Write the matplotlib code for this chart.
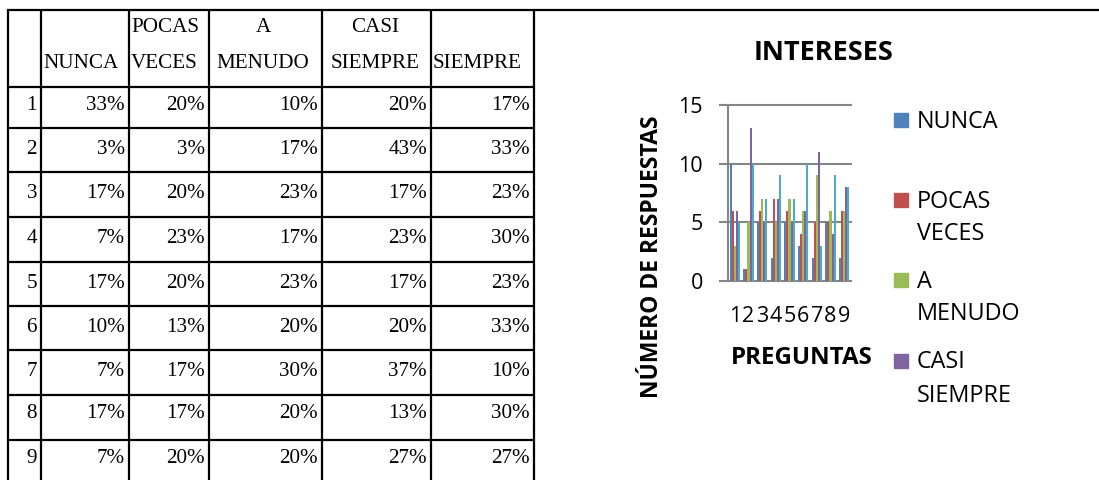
import matplotlib
matplotlib.use("Agg")
import matplotlib.pyplot as plt
import numpy as np
from matplotlib.patches import Rectangle

plt.rcParams['font.family'] = ['Open Sans', 'DejaVu Sans']

preguntas = ['1', '2', '3', '4', '5', '6', '7', '8', '9']
series = ['NUNCA', 'POCAS VECES', 'A MENUDO', 'CASI SIEMPRE', 'SIEMPRE']

# porcentajes de la tabla
nunca_pct = [33, 3, 17, 7, 17, 10, 7, 17, 7]
pocas_pct = [20, 3, 20, 23, 20, 13, 17, 17, 20]
menudo_pct = [10, 17, 23, 17, 23, 20, 30, 20, 20]
casi_pct = [20, 43, 17, 23, 17, 20, 37, 13, 27]
siempre_pct = [17, 33, 23, 30, 23, 33, 10, 30, 27]

# numero de respuestas (grafico)
nunca = [10, 1, 5, 2, 5, 3, 2, 5, 2]
pocas = [6, 1, 6, 7, 6, 4, 5, 5, 6]
menudo = [3, 5, 7, 5, 7, 6, 9, 6, 6]
casi = [6, 13, 5, 7, 5, 6, 11, 4, 8]
siempre = [5, 10, 7, 9, 7, 10, 3, 9, 8]

colors = ['#4F81BD', '#C0504D', '#9BBB59', '#8064A2', '#4BACC6']

fig = plt.figure(figsize=(10.99, 4.8), dpi=100)

# capa de fondo en pixeles para la tabla y textos
bg = fig.add_axes([0, 0, 1, 1])
bg.set_xlim(0, 1099)
bg.set_ylim(480, 0)
bg.axis('off')

col_x = [8, 41, 129, 209, 322, 431, 534]
row_y = [10, 87, 128, 172, 217, 262, 306, 350, 395, 440]
lw = 1.6
for x in col_x:
    bg.plot([x, x], [10, 480], color='black', lw=lw, solid_capstyle='butt')
bg.plot([8, 1099], [10, 10], color='black', lw=lw, solid_capstyle='projecting')
for y in row_y[1:]:
    bg.plot([8, 534], [y, y], color='black', lw=lw, solid_capstyle='butt')

serif = ['Liberation Serif', 'DejaVu Serif']
tfs = 15.2

# encabezados
line1 = [None, ('POCAS', 131, 'left'), ('A', 263, 'center'), ('CASI', 375, 'center'), None]
line2 = [('NUNCA', 43, 'left'), ('VECES', 131, 'left'), ('MENUDO', 263, 'center'),
         ('SIEMPRE', 375, 'center'), ('SIEMPRE', 433, 'left')]
for l1, l2 in zip(line1, line2):
    if l1:
        bg.text(l1[1], 32, l1[0], ha=l1[2], va='baseline', fontsize=tfs, family=serif)
    bg.text(l2[1], 68, l2[0], ha=l2[2], va='baseline', fontsize=tfs, family=serif)

baselines = [110, 154, 198, 243, 288, 332, 376, 418, 463]
table = [nunca_pct, pocas_pct, menudo_pct, casi_pct, siempre_pct]
for r, (p, yb) in enumerate(zip(preguntas, baselines)):
    bg.text(col_x[1] - 4, yb, p, ha='right', va='baseline', fontsize=tfs, family=serif)
    for c, col in enumerate(table):
        bg.text(col_x[c + 2] - 4, yb, f"{col[r]}%", ha='right', va='baseline',
                fontsize=tfs, family=serif)

# grafico
ax = fig.add_axes([728 / 1099, 199 / 480, 123 / 1099, 176 / 480])
x = np.arange(len(preguntas))
w = 0.154
for i, (vals, c) in enumerate(zip([nunca, pocas, menudo, casi, siempre], colors)):
    ax.bar(x + (i - 2) * w, vals, w, color=c, linewidth=0)
ax.set_xlim(-0.5, 8.5)
ax.set_ylim(0, 15)
ax.set_yticks([0, 5, 10, 15])
ax.set_xticks(x)
ax.set_xticklabels(preguntas)
ax.grid(axis='y', color='#868686', lw=1.5)
ax.set_axisbelow(True)
for gl in ax.get_ygridlines():
    gl.set_clip_on(False)
for s in ['top', 'right', 'bottom']:
    ax.spines[s].set_visible(False)
ax.spines['left'].set_color('#868686')
ax.spines['left'].set_linewidth(1.5)
ax.tick_params(axis='y', length=6.5, width=1.5, color='#868686', pad=11.5, labelsize=15.5)
ax.tick_params(axis='x', length=0, pad=18, labelsize=15.5)

bg.text(824, 53, 'INTERESES', ha='center', va='center', fontsize=19.5, fontweight='bold')
bg.text(801.5, 358, 'PREGUNTAS', ha='center', va='center', fontsize=17.4, fontweight='bold')
bg.text(651.5, 256.5, 'NÚMERO DE RESPUESTAS', ha='center', va='center', rotation=90,
        fontsize=16.5, fontweight='bold')

# leyenda (SIEMPRE queda fuera por falta de espacio)
leg_y = [120, 200, 280, 361]
for name, c, yc in zip(series[:4], colors[:4], leg_y):
    bg.add_patch(Rectangle((894, yc - 7), 14, 14, color=c))
    for k, word in enumerate(name.split(' ')):
        bg.text(917, yc + 7.5 + 33 * k, word, ha='left', va='baseline', fontsize=16.8)

fig.savefig('out.png', dpi=100)
